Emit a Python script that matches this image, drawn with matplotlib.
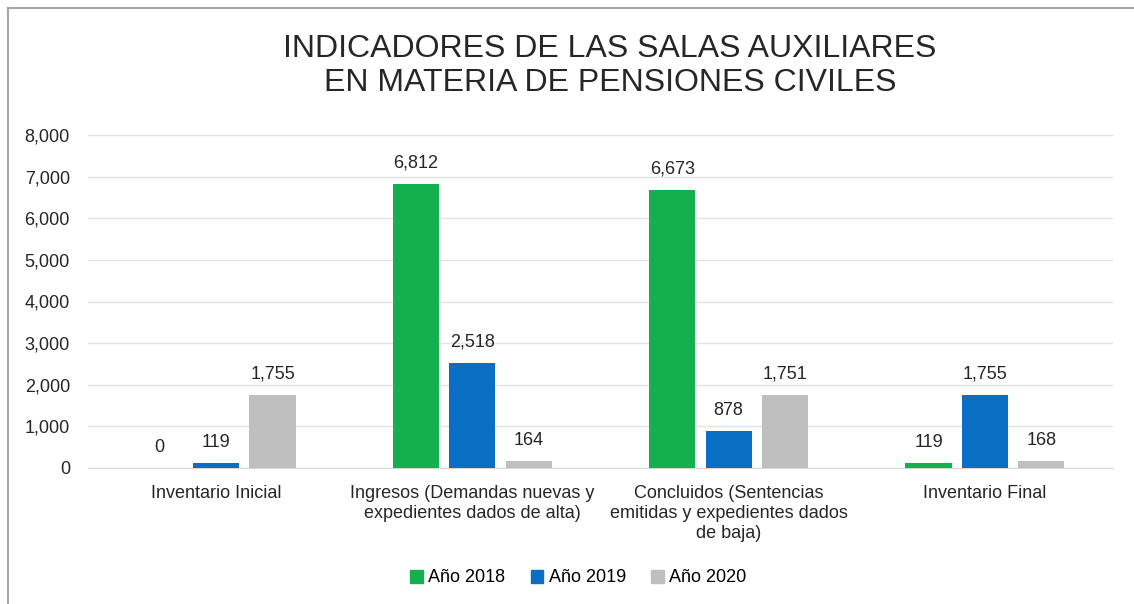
import matplotlib
matplotlib.use("Agg")
import matplotlib.pyplot as plt
import numpy as np
from matplotlib.patches import Rectangle
from matplotlib.lines import Line2D

plt.rcParams['font.family'] = ['Liberation Sans', 'DejaVu Sans']

categories = ["Inventario Inicial",
              "Ingresos (Demandas nuevas y\nexpedientes dados de alta)",
              "Concluidos (Sentencias\nemitidas y expedientes dados\nde baja)",
              "Inventario Final"]
series_names = ["Año 2018", "Año 2019", "Año 2020"]
v2018 = [0, 6812, 6673, 119]
v2019 = [119, 2518, 878, 1755]
v2020 = [1755, 164, 1751, 168]
colors = ["#14B04F", "#0A6FC2", "#BFBFBF"]

fig = plt.figure(figsize=(11.34, 6.04), dpi=100)
ax = fig.add_axes([88/1134, 1-468/604, (1113-88)/1134, (468-135)/604])

x = np.arange(len(categories))
width = 0.18
offsets = [-0.22, 0, 0.22]
for vals, off, c, name in zip([v2018, v2019, v2020], offsets, colors, series_names):
    bars = ax.bar(x + off, vals, width, color=c, label=name, zorder=3)
    for b, v in zip(bars, vals):
        ax.text(b.get_x() + b.get_width()/2, v + 300, f"{v:,}", ha='center', va='bottom',
                fontsize=13, color='#262626')

ax.set_xlim(-0.5, 3.5)
ax.set_ylim(0, 8000)
ax.set_yticks(np.arange(0, 8001, 1000))
ax.set_yticklabels([f"{t:,}" for t in range(0, 8001, 1000)], fontsize=13, color='#262626')
ax.yaxis.grid(True, color='#E3E3E3', linewidth=1, zorder=0)
ax.set_xticks(x)
ax.set_xticklabels(categories, fontsize=13, color='#262626', linespacing=1.25)
ax.tick_params(axis='both', length=0)
ax.tick_params(axis='x', pad=12)
ax.tick_params(axis='y', pad=13)
for s in ['top', 'right', 'left']:
    ax.spines[s].set_visible(False)
ax.spines['bottom'].set_color('#D9D9D9')

fig.text(0.538, 1-66/604, "INDICADORES DE LAS SALAS AUXILIARES\nEN MATERIA DE PENSIONES CIVILES",
         ha='center', va='center', fontsize=23, color='#262626', linespacing=1.2)

handles = [Rectangle((0, 0), 1, 1, color=c) for c in colors]
fig.legend(handles, series_names, loc='center', bbox_to_anchor=(0.51, 1-578/604), ncol=3,
           frameon=False, fontsize=13, handlelength=0.7, handleheight=0.7,
           handletextpad=0.3, columnspacing=1.4)

fig.add_artist(Line2D([8/1134, 8/1134], [0, 1-8/604], color='#A6A6A6', linewidth=1.5))
fig.add_artist(Line2D([8/1134, 1], [1-8/604, 1-8/604], color='#A6A6A6', linewidth=1.5))

fig.savefig("out.png", dpi=100)
